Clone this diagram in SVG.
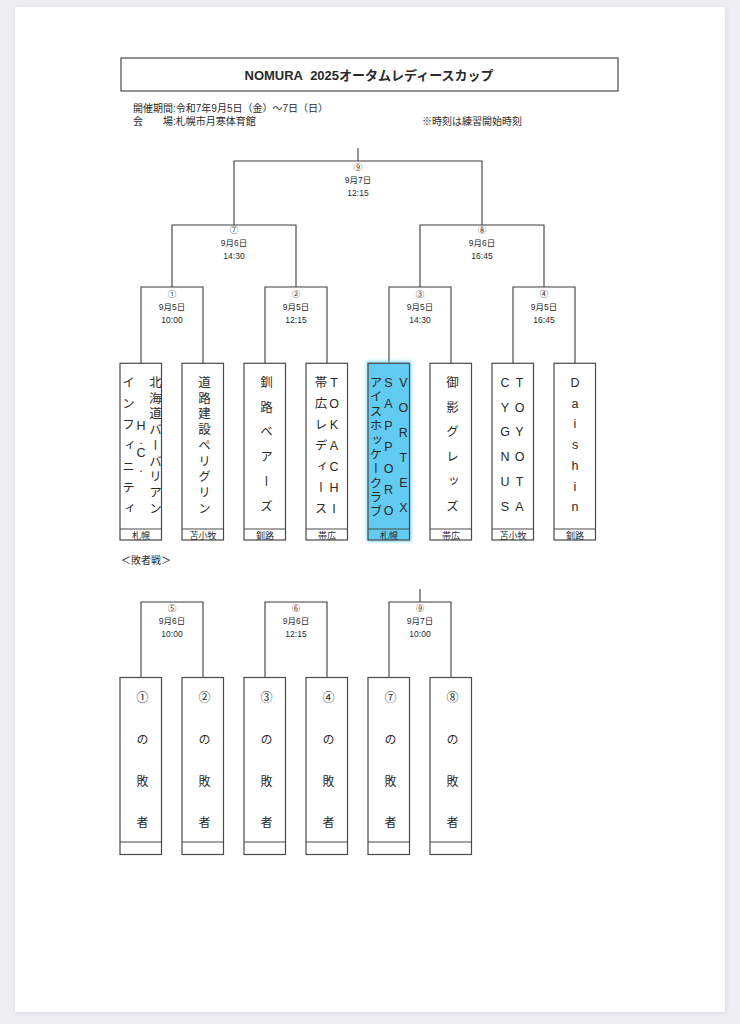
<svg xmlns="http://www.w3.org/2000/svg" width="740" height="1024" viewBox="0 0 740 1024">
<style>
text{font-family:"Liberation Sans","Noto Sans CJK JP",sans-serif;fill:#2a2a2a}
.ttl{font-size:13px;font-weight:bold;text-anchor:middle}
.hd{font-size:10px}
.lb{font-size:8.5px;text-anchor:middle}
.tm{font-size:12.5px;writing-mode:vertical-rl;text-orientation:upright}
.ls{font-size:12px;writing-mode:vertical-rl;text-orientation:upright}
.rg{font-size:9px;text-anchor:middle}
.box{fill:#fff;stroke:#4a4a4a;stroke-width:1.2}
.div{stroke:#4a4a4a;stroke-width:1.1}
.ln{fill:none;stroke:#3c3c3c;stroke-width:1.1}
</style>
<defs>
<filter id="sh" x="-5%" y="-5%" width="110%" height="110%"><feGaussianBlur stdDeviation="2"/></filter>
<filter id="gl" x="-30%" y="-10%" width="160%" height="120%"><feGaussianBlur stdDeviation="1.5"/></filter>
</defs>
<rect x="0" y="0" width="740" height="1024" fill="#efeff3"/>
<rect x="15" y="8" width="711" height="1005" fill="#d9d9de" filter="url(#sh)"/>
<rect x="15" y="7" width="710" height="1005" fill="#fff"/>

<g id="title">
<rect x="121" y="58" width="497" height="33" fill="#fff" stroke="#4a4a4a" stroke-width="1.2"/>
<text class="ttl" x="369" y="80">NOMURA<tspan dx="4"> 2025オータムレディースカップ</tspan></text>
</g>
<g id="header">
<text class="hd" x="133" y="112">開催期間:令和7年9月5日（金）～7日（日）</text>
<text class="hd" y="125"><tspan x="133">会</tspan><tspan x="163">場:札幌市月寒体育館</tspan></text>
<text class="hd" x="422" y="125">※時刻は練習開始時刻</text>
</g>

<g id="connectors">
<path class="ln" d="M358,148 V161 M234,225 V161 H482 V225"/>
<path class="ln" d="M172,287 V225 H296 V287 M420,287 V225 H544 V287"/>
<path class="ln" d="M141,363 V287 H203 V363 M265,363 V287 H327 V363 M389,363 V287 H451 V363 M513,363 V287 H575 V363"/>
<path class="ln" d="M141,678 V602 H203 V678 M265,678 V602 H327 V678 M389,678 V602 H451 V678 M420,602 V589"/>
</g>

<g id="match9"><text class="lb" x="358" y="170">⑨</text><text class="lb" x="358" y="183">9月7日</text><text class="lb" x="358" y="196">12:15</text></g>
<g id="match7"><text class="lb" x="234" y="233">⑦</text><text class="lb" x="234" y="246">9月6日</text><text class="lb" x="234" y="259">14:30</text></g>
<g id="match8"><text class="lb" x="482" y="233">⑧</text><text class="lb" x="482" y="246">9月6日</text><text class="lb" x="482" y="259">16:45</text></g>
<g id="match1"><text class="lb" x="172" y="297">①</text><text class="lb" x="172" y="310">9月5日</text><text class="lb" x="172" y="323">10:00</text></g>
<g id="match2"><text class="lb" x="296" y="297">②</text><text class="lb" x="296" y="310">9月5日</text><text class="lb" x="296" y="323">12:15</text></g>
<g id="match3"><text class="lb" x="420" y="297">③</text><text class="lb" x="420" y="310">9月5日</text><text class="lb" x="420" y="323">14:30</text></g>
<g id="match4"><text class="lb" x="544" y="297">④</text><text class="lb" x="544" y="310">9月5日</text><text class="lb" x="544" y="323">16:45</text></g>

<g id="team1">
<rect class="box" x="120" y="363.3" width="41.5" height="176.7"/>
<line class="div" x1="120" y1="529" x2="161.5" y2="529"/>
<text class="tm" x="154" y="375.8 391.5 407.3 423 438.8 454.5 470.3 486 501.8">北海道バーバリアン</text>
<text class="tm" x="141" y="418.8 432.8 445.8 460.8">H.C.</text>
<text class="tm" x="127" y="375.8 396.8 417.8 438.8 459.8 480.8 501.8">インフィニティ</text>
<text class="rg" x="141" y="538.6">札幌</text>
</g>
<g id="team2">
<rect class="box" x="182" y="363.3" width="41.5" height="176.7"/>
<line class="div" x1="182" y1="529" x2="223.5" y2="529"/>
<text class="tm" x="203" y="375.8 391.5 407.3 423 438.8 454.5 470.3 486 501.8">道路建設ペリグリン</text>
<text class="rg" x="203" y="538.6">苫小牧</text>
</g>
<g id="team3">
<rect class="box" x="244" y="363.3" width="41.5" height="176.7"/>
<line class="div" x1="244" y1="529" x2="285.5" y2="529"/>
<text class="tm" x="265" y="376 400.7 425.4 450.1 474.8 499.5">釧路ベアーズ</text>
<text class="rg" x="265" y="538.6">釧路</text>
</g>
<g id="team4">
<rect class="box" x="306" y="363.3" width="41.5" height="176.7"/>
<line class="div" x1="306" y1="529" x2="347.5" y2="529"/>
<text class="tm" x="334" y="375.8 396.8 417.8 438.8 459.8 480.8 501.8">TOKACHI</text>
<text class="tm" x="319.5" y="375.8 396.8 417.8 438.8 459.8 480.8 501.8">帯広レディース</text>
<text class="rg" x="327" y="538.6">帯広</text>
</g>
<g id="team5">
<rect x="366.5" y="361" width="45" height="181" fill="#62cbf1" opacity="0.7" filter="url(#gl)"/>
<rect class="box" x="368" y="363.3" width="41.5" height="176.7" style="fill:#62cbf1"/>
<line class="div" x1="368" y1="529" x2="409.5" y2="529"/>
<text class="tm" x="403.3" y="376 400.9 425.8 450.7 475.6 500.5">VORTEX</text>
<text class="tm" x="388.5" y="376 397.4 418.8 440.2 461.6 483 504.4">SAPPORO</text>
<text class="tm" x="374.5" y="376 390.4 404.8 419.1 433.5 447.9 462.3 476.7 491 505.4">アイスホッケークラブ</text>
<text class="rg" x="389" y="538.6">札幌</text>
</g>
<g id="team6">
<rect class="box" x="430" y="363.3" width="41.5" height="176.7"/>
<line class="div" x1="430" y1="529" x2="471.5" y2="529"/>
<text class="tm" x="451" y="376 400.7 425.4 450.1 474.8 499.5">御影グレッズ</text>
<text class="rg" x="451" y="538.6">帯広</text>
</g>
<g id="team7">
<rect class="box" x="492" y="363.3" width="41.5" height="176.7"/>
<line class="div" x1="492" y1="529" x2="533.5" y2="529"/>
<text class="tm" x="519.5" y="376 400.7 425.4 450.1 474.8 499.5">TOYOTA</text>
<text class="tm" x="505" y="376 400.7 425.4 450.1 474.8 499.5">CYGNUS</text>
<text class="rg" x="513" y="538.6">苫小牧</text>
</g>
<g id="team8">
<rect class="box" x="554" y="363.3" width="41.5" height="176.7"/>
<line class="div" x1="554" y1="529" x2="595.5" y2="529"/>
<text class="tm" x="575" y="376 396.7 417.4 438.1 458.8 479.5 500.2">Daishin</text>
<text class="rg" x="575" y="538.6">釧路</text>
</g>

<g id="losers-title"><text class="hd" x="121" y="564">＜敗者戦＞</text></g>

<g id="match5"><text class="lb" x="172" y="611">⑤</text><text class="lb" x="172" y="624">9月6日</text><text class="lb" x="172" y="637">10:00</text></g>
<g id="match6"><text class="lb" x="296" y="611">⑥</text><text class="lb" x="296" y="624">9月6日</text><text class="lb" x="296" y="637">12:15</text></g>
<g id="match9b"><text class="lb" x="420" y="611">⑨</text><text class="lb" x="420" y="624">9月7日</text><text class="lb" x="420" y="637">10:00</text></g>

<g id="loser1"><rect class="box" x="120" y="677.5" width="41.5" height="177"/><line class="div" x1="120" y1="842" x2="161.5" y2="842"/><text class="ls" x="141" y="691.3 733.3 775 816.7">①の敗者</text></g>
<g id="loser2"><rect class="box" x="182" y="677.5" width="41.5" height="177"/><line class="div" x1="182" y1="842" x2="223.5" y2="842"/><text class="ls" x="203" y="691.3 733.3 775 816.7">②の敗者</text></g>
<g id="loser3"><rect class="box" x="244" y="677.5" width="41.5" height="177"/><line class="div" x1="244" y1="842" x2="285.5" y2="842"/><text class="ls" x="265" y="691.3 733.3 775 816.7">③の敗者</text></g>
<g id="loser4"><rect class="box" x="306" y="677.5" width="41.5" height="177"/><line class="div" x1="306" y1="842" x2="347.5" y2="842"/><text class="ls" x="327" y="691.3 733.3 775 816.7">④の敗者</text></g>
<g id="loser7"><rect class="box" x="368" y="677.5" width="41.5" height="177"/><line class="div" x1="368" y1="842" x2="409.5" y2="842"/><text class="ls" x="389" y="691.3 733.3 775 816.7">⑦の敗者</text></g>
<g id="loser8"><rect class="box" x="430" y="677.5" width="41.5" height="177"/><line class="div" x1="430" y1="842" x2="471.5" y2="842"/><text class="ls" x="451" y="691.3 733.3 775 816.7">⑧の敗者</text></g>
</svg>
